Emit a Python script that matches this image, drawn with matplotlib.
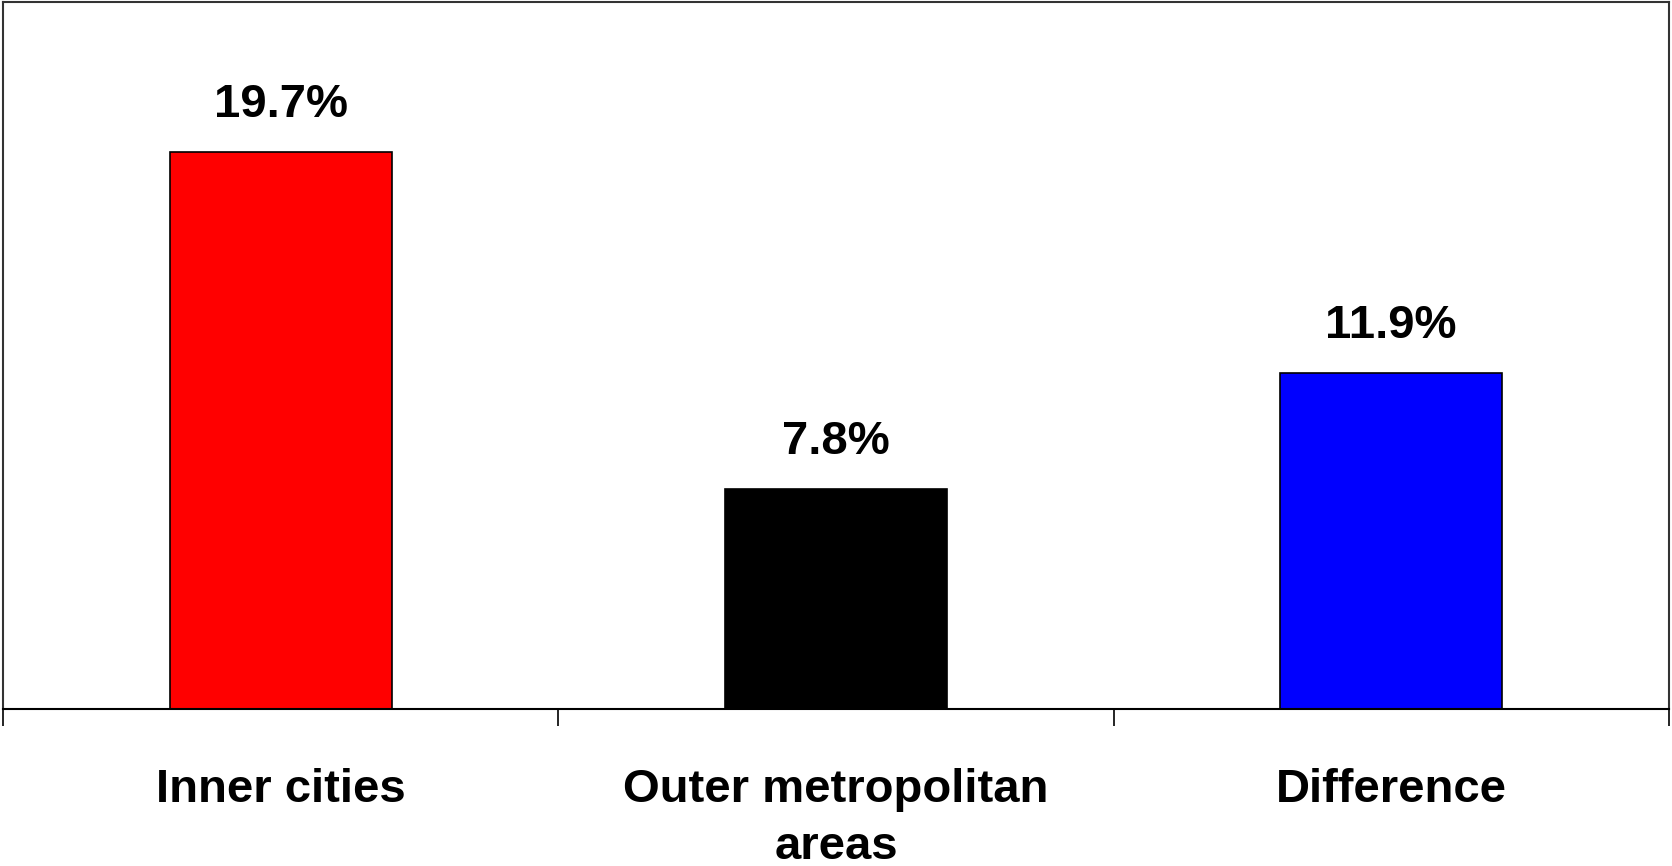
import matplotlib
matplotlib.use('Agg')
import matplotlib.pyplot as plt

plt.rcParams['font.family'] = ['Liberation Sans', 'DejaVu Sans']

# data
categories = ['Inner cities', 'Outer metropolitan\nareas', 'Difference']
values = [19.7, 7.8, 11.9]
bar_colors = ['#ff0000', '#000000', '#0000ff']

fig = plt.figure(figsize=(16.72, 8.66), dpi=100)
ax = fig.add_axes([0.002, 0.181, 0.996, 0.8165])

x = list(range(len(categories)))
bars = ax.bar(x, values, width=0.4, color=bar_colors, edgecolor='black', linewidth=1.2)

for b, v in zip(bars, values):
    ax.annotate(f'{v}%', (b.get_x() + b.get_width()/2, b.get_height()),
                xytext=(0, 18), textcoords='offset points',
                ha='center', va='bottom', fontsize=34, fontweight='bold')

ax.set_xlim(-0.5, len(categories) - 0.5)
ax.set_ylim(0, 25)
ax.set_yticks([])

ax.set_xticks(x)
ax.set_xticklabels(categories, fontsize=34, fontweight='bold', linespacing=1.4)
ax.tick_params(axis='x', which='major', length=0, pad=42)
ax.set_xticks([i - 0.5 for i in range(len(categories) + 1)], minor=True)
ax.tick_params(axis='x', which='minor', length=12, width=1.2, color='black')

for s in ['left', 'top', 'right']:
    ax.spines[s].set_color('#333333')
    ax.spines[s].set_linewidth(1.5)
ax.spines['bottom'].set_linewidth(1.5)

fig.savefig('out.png', dpi=100)
